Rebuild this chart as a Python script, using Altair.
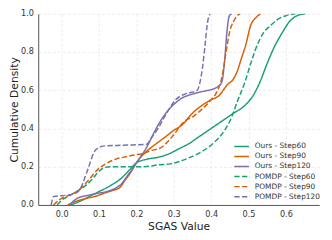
import altair as alt
import pandas as pd

series_names = ["Ours - Step60", "Ours - Step90", "Ours - Step120",
                "POMDP - Step60", "POMDP - Step90", "POMDP - Step120"]
series_colors = ["#1b9e77", "#d95f02", "#7570b3", "#1b9e77", "#d95f02", "#7570b3"]

ours60_x = [0.025, 0.05, 0.08, 0.10, 0.13, 0.16, 0.18, 0.20, 0.23, 0.26, 0.29, 0.31, 0.34, 0.37,
            0.40, 0.43, 0.46, 0.49, 0.51, 0.53, 0.55, 0.57, 0.59, 0.61, 0.63, 0.652]
ours60_y = [0.0, 0.02, 0.05, 0.07, 0.10, 0.14, 0.18, 0.22, 0.24, 0.25, 0.27, 0.29, 0.32, 0.36,
            0.40, 0.44, 0.48, 0.52, 0.565, 0.64, 0.74, 0.83, 0.90, 0.96, 0.99, 1.0]

ours90_x = [0.016, 0.04, 0.068, 0.09, 0.112, 0.135, 0.155, 0.17, 0.185, 0.20, 0.227, 0.253, 0.28,
            0.30, 0.323, 0.35, 0.375, 0.40, 0.42, 0.444, 0.46, 0.47, 0.48, 0.493, 0.506, 0.52, 0.532]
ours90_y = [0.0, 0.02, 0.035, 0.045, 0.06, 0.075, 0.09, 0.13, 0.17, 0.22, 0.28, 0.32, 0.36,
            0.39, 0.42, 0.48, 0.52, 0.55, 0.57, 0.63, 0.66, 0.70, 0.76, 0.84, 0.94, 0.98, 1.0]

ours120_x = [0.021, 0.042, 0.07, 0.094, 0.12, 0.146, 0.16, 0.175, 0.19, 0.20, 0.227, 0.253, 0.275,
             0.297, 0.323, 0.35, 0.38, 0.41, 0.428, 0.436, 0.442, 0.449, 0.455]
ours120_y = [0.0, 0.035, 0.05, 0.06, 0.07, 0.09, 0.11, 0.15, 0.19, 0.22, 0.30, 0.40, 0.47,
             0.52, 0.56, 0.58, 0.595, 0.61, 0.64, 0.75, 0.90, 0.99, 1.0]

pomdp60_x = [-0.012, 0.0, 0.018, 0.04, 0.063, 0.08, 0.097, 0.115, 0.14, 0.175, 0.22, 0.26, 0.29,
             0.313, 0.345, 0.376, 0.41, 0.436, 0.455, 0.47, 0.49, 0.506, 0.52, 0.54, 0.56, 0.574,
             0.60, 0.626]
pomdp60_y = [0.0, 0.025, 0.045, 0.07, 0.10, 0.13, 0.17, 0.196, 0.2, 0.2, 0.2, 0.21, 0.215,
             0.226, 0.25, 0.28, 0.33, 0.39, 0.46, 0.54, 0.64, 0.74, 0.82, 0.90, 0.94, 0.965,
             0.99, 1.0]

pomdp90_x = [-0.022, 0.0, 0.02, 0.044, 0.07, 0.097, 0.123, 0.145, 0.167, 0.19, 0.219, 0.24, 0.266,
             0.297, 0.33, 0.35, 0.375, 0.40, 0.415, 0.428, 0.44, 0.45, 0.46, 0.47, 0.478]
pomdp90_y = [0.0, 0.035, 0.05, 0.075, 0.125, 0.186, 0.22, 0.24, 0.25, 0.26, 0.27, 0.285, 0.30,
             0.36, 0.44, 0.46, 0.50, 0.55, 0.59, 0.66, 0.80, 0.91, 0.96, 0.99, 1.0]

pomdp120_x = [-0.028, -0.021, 0.01, 0.036, 0.05, 0.07, 0.088, 0.105, 0.123, 0.16, 0.19, 0.227,
              0.24, 0.258, 0.275, 0.287, 0.305, 0.33, 0.363, 0.37, 0.377, 0.384, 0.39, 0.397]
pomdp120_y = [0.0, 0.045, 0.05, 0.06, 0.085, 0.186, 0.28, 0.305, 0.31, 0.312, 0.314, 0.317,
              0.35, 0.40, 0.46, 0.50, 0.55, 0.58, 0.60, 0.64, 0.72, 0.84, 0.95, 1.0]

curves = [(ours60_x, ours60_y), (ours90_x, ours90_y), (ours120_x, ours120_y),
          (pomdp60_x, pomdp60_y), (pomdp90_x, pomdp90_y), (pomdp120_x, pomdp120_y)]

rows = []
for name, (xs, ys) in zip(series_names, curves):
    for i, (xv, yv) in enumerate(zip(xs, ys)):
        rows.append({"series": name, "x": xv, "y": yv, "i": i})
df = pd.DataFrame(rows)

solid = [1, 0]
dash = [5.5, 2.4]
dash_range = [solid, solid, solid, dash, dash, dash]

font = "DejaVu Sans"

legend_opts = dict(title=None, orient="none", legendX=202.5, legendY=130,
                   symbolType="M-1.5,0L1.5,0", symbolSize=100, symbolStrokeWidth=1.5,
                   labelFontSize=7.6, labelFont=font, labelColor="#333",
                   rowPadding=0.3, labelOffset=7.5, padding=0)

chart = alt.Chart(df).mark_line(strokeWidth=1.5, interpolate="monotone", clip=True).encode(
    x=alt.X("x:Q", title="SGAS Value",
            scale=alt.Scale(domain=[-0.0626, 0.689], nice=False, zero=False),
            axis=alt.Axis(values=[0.0, 0.1, 0.2, 0.3, 0.4, 0.5, 0.6], format=".1f")),
    y=alt.Y("y:Q", title="Cumulative Density",
            scale=alt.Scale(domain=[0, 1.0], nice=False),
            axis=alt.Axis(values=[0.0, 0.2, 0.4, 0.6, 0.8, 1.0], format=".1f")),
    color=alt.Color("series:N", scale=alt.Scale(domain=series_names, range=series_colors),
                    sort=series_names, legend=alt.Legend(**legend_opts)),
    strokeDash=alt.StrokeDash("series:N", scale=alt.Scale(domain=series_names, range=dash_range),
                              sort=series_names, legend=alt.Legend(**legend_opts)),
    order="i:Q",
).properties(
    width=288, height=196,
    autosize=alt.AutoSizeParams(type="none"),
    padding={"left": 31, "top": 3, "right": 5, "bottom": 33},
).configure_view(stroke=None).configure_axis(
    labelFont=font, titleFont=font, labelFontSize=8.3, titleFontSize=11,
    labelColor="#333", titleColor="#222", titleFontWeight="normal",
    ticks=False, tickSize=0, labelPadding=5,
    grid=True, gridColor="#e4e4e4", gridDash=[3, 2], gridWidth=0.7,
    domainColor="#555", domainWidth=1,
).configure_axisX(titlePadding=3).configure_axisY(titlePadding=1)

chart.save("out.html", embed_options={"renderer": "svg", "actions": False})
